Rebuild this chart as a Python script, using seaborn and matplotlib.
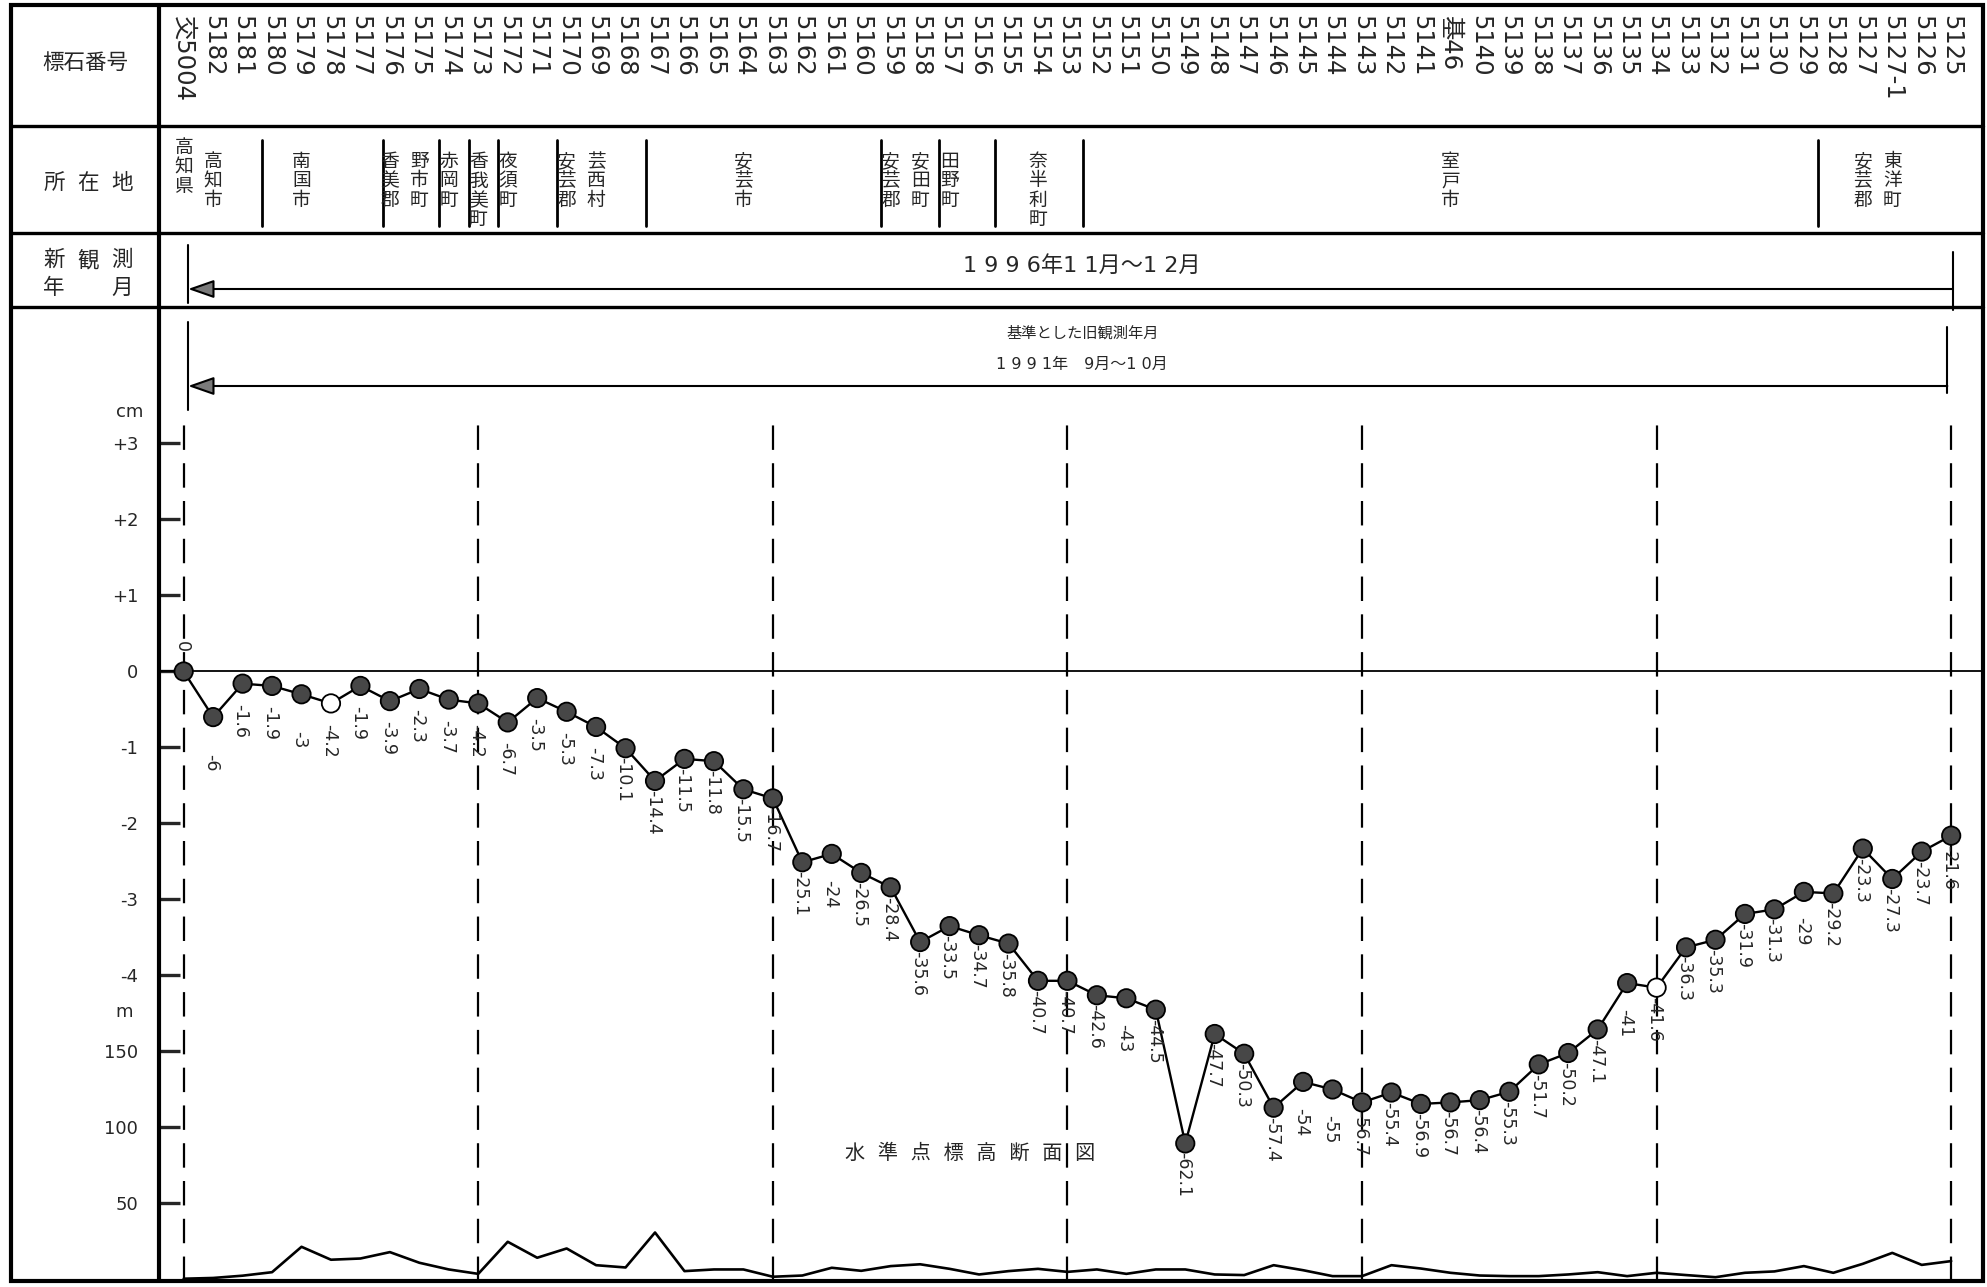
import pandas as pd
import seaborn as sns
import matplotlib.pyplot as plt
from matplotlib.lines import Line2D
from matplotlib.patches import Rectangle
from matplotlib.transforms import blended_transform_factory

# -----------------------------
# Data
# -----------------------------
stations = [
    "交5004", "5182", "5181", "5180", "5179", "5178", "5177", "5176", "5175", "5174",
    "5173", "5172", "5171", "5170", "5169", "5168", "5167", "5166", "5165", "5164",
    "5163", "5162", "5161", "5160", "5159", "5158", "5157", "5156", "5155", "5154",
    "5153", "5152", "5151", "5150", "5149", "5148", "5147", "5146", "5145", "5144",
    "5143", "5142", "5141", "基46", "5140", "5139", "5138", "5137", "5136", "5135",
    "5134", "5133", "5132", "5131", "5130", "5129", "5128", "5127", "5127-1", "5126",
    "5125",
]

# height change of each bench mark, mm
change_mm = [
    0, -6, -1.6, -1.9, -3, -4.2, -1.9, -3.9, -2.3, -3.7,
    -4.2, -6.7, -3.5, -5.3, -7.3, -10.1, -14.4, -11.5, -11.8, -15.5,
    -16.7, -25.1, -24, -26.5, -28.4, -35.6, -33.5, -34.7, -35.8, -40.7,
    -40.7, -42.6, -43, -44.5, -62.1, -47.7, -50.3, -57.4, -54, -55,
    -56.7, -55.4, -56.9, -56.7, -56.4, -55.3, -51.7, -50.2, -47.1, -41,
    -41.6, -36.3, -35.3, -31.9, -31.3, -29, -29.2, -23.3, -27.3, -23.7,
    -21.6,
]

# bench mark elevation, m
elevation_m = [
    0.5, 1.0, 2.5, 4.8, 21.5, 13.0, 13.8, 18.0, 11.0, 6.6,
    3.7, 24.8, 14.3, 20.4, 9.4, 7.9, 30.9, 5.5, 6.6, 6.6,
    1.8, 2.6, 7.7, 5.7, 8.8, 10.0, 7.0, 3.3, 5.5, 7.0,
    5.0, 6.6, 3.7, 6.6, 6.6, 3.3, 2.9, 9.4, 6.1, 2.2,
    2.2, 9.4, 7.2, 4.4, 2.6, 2.2, 2.2, 3.3, 4.8, 2.2,
    4.4, 2.9, 1.5, 4.4, 5.3, 8.8, 4.4, 10.3, 17.5, 9.6,
    12.1,
]

hollow_stations = ["5178", "5134"]

# municipality names and the bench mark each name stands over
places = ["高知県", "高知市", "南国市", "香美郡", "野市町", "赤岡町", "香我美町", "夜須町",
          "安芸郡", "芸西村", "安芸市", "安芸郡", "安田町", "田野町", "奈半利町", "室戸市",
          "安芸郡", "東洋町"]
place_station = ["交5004", "5182", "5179", "5176", "5175", "5174", "5173", "5172",
                 "5170", "5169", "5164", "5159", "5158", "5157", "5154", "基46",
                 "5127", "5127-1"]

new_survey = "1 9 9 6年1 1月～1 2月"
old_survey = "1 9 9 1年　9月～1 0月"
cm_ticks = [3, 2, 1, 0, -1, -2, -3, -4]
cm_tick_labels = ["+3", "+2", "+1", "0", "-1", "-2", "-3", "-4"]
m_ticks = [150, 100, 50]

df = pd.DataFrame({
    "idx": range(len(stations)),
    "station": stations,
    "change_mm": change_mm,
    "elev": elevation_m,
})
df["cm"] = df["change_mm"] / 10
df["kind"] = ["open" if s in hollow_stations else "filled" for s in stations]

# -----------------------------
# Layout (pixels of the 1987x1287 sheet)
# -----------------------------
W, H = 1987, 1287
LEFT, RIGHT, TOP, BOTTOM = 11, 1983, 5, 1281
COL = 159
ROW1, ROW2, ROW3 = 126, 233, 307
separators = [2.66, 6.75, 8.66, 9.68, 10.66, 12.66, 15.69, 23.66, 25.63, 27.54, 30.53, 55.49]


def fy(y):
    return 1 - y / H


sns.set_style("white")
plt.rcParams["font.family"] = ["DejaVu Sans", "Noto Sans CJK JP"]

fig = plt.figure(figsize=(W / 100, H / 100), dpi=100)
ax = fig.add_axes([COL / W, fy(BOTTOM), (RIGHT - COL) / W, (BOTTOM - ROW3) / H])
ax.set_xlim(-0.838, 61.08)
ax.set_ylim(-8.02, 4.796)

# sheet frame and table rules
fig.patches.append(Rectangle((LEFT / W, fy(BOTTOM)), (RIGHT - LEFT) / W, (BOTTOM - TOP) / H,
                             transform=fig.transFigure, fill=False, ec="black", lw=3))
for yy in [ROW1, ROW2, ROW3]:
    fig.lines.append(Line2D([LEFT / W, RIGHT / W], [fy(yy), fy(yy)],
                            transform=fig.transFigure, color="black", lw=2.4))
fig.lines.append(Line2D([COL / W, COL / W], [fy(TOP), fy(BOTTOM)],
                        transform=fig.transFigure, color="black", lw=3))

# left column headings
fig.text(85 / W, fy(63), "標石番号", ha="center", va="center", fontsize=15.5)
for ch, xx in zip("所在地", [54, 88, 122]):
    fig.text(xx / W, fy(183), ch, ha="center", va="center", fontsize=15.5)
for ch, xx in zip("新観測", [54, 88, 122]):
    fig.text(xx / W, fy(260), ch, ha="center", va="center", fontsize=15.5)
for ch, xx in zip("年月", [54, 122]):
    fig.text(xx / W, fy(288), ch, ha="center", va="center", fontsize=15.5)

hdr = blended_transform_factory(ax.transData, fig.transFigure)

# bench mark numbers
for i, s in enumerate(stations):
    ax.text(i, fy(15), s, transform=hdr, rotation=-90, ha="center", va="top", fontsize=17.5)

# municipalities
for name, st in zip(places, place_station):
    i = stations.index(st)
    top = 138 if name == "高知県" else 152
    ax.text(i, fy(top), "\n".join(name), transform=hdr, ha="center", va="top",
            fontsize=13.5, linespacing=1.03)
for xs in separators:
    ax.plot([xs, xs], [fy(140), fy(226)], transform=hdr, color="black", lw=2, clip_on=False)


def survey_arrow(y, x0, x1, t0, t1):
    ax.annotate("", xy=(x0, fy(y)), xytext=(x1, fy(y)), xycoords=hdr, textcoords=hdr,
                annotation_clip=False,
                arrowprops=dict(arrowstyle="-|>,head_length=0.8,head_width=0.28",
                                mutation_scale=20, shrinkA=0, shrinkB=0,
                                fc="#7a7a7a", ec="black", lw=1.5))
    ax.plot([x0, x0], [fy(t0[0]), fy(t0[1])], transform=hdr, color="black", lw=1.5, clip_on=False)
    ax.plot([x1, x1], [fy(t1[0]), fy(t1[1])], transform=hdr, color="black", lw=1.5, clip_on=False)


# new survey period
ax.text(30.5, fy(265), new_survey, transform=hdr, ha="center", va="center", fontsize=16)
survey_arrow(289, 0.15, 60.06, (245, 303), (252, 310))

# reference (old) survey period
ax.text(30.5, fy(333), "基準とした旧観測年月", transform=hdr, ha="center", va="center", fontsize=11)
ax.text(30.5, fy(364), old_survey, transform=hdr, ha="center", va="center", fontsize=11.5)
survey_arrow(386, 0.15, 59.87, (322, 410), (327, 393))

# -----------------------------
# Profile
# -----------------------------
ax.axhline(0, color="black", lw=1.3, zorder=1)
ax.vlines(range(0, len(stations), 10), -8.02, 3.3, colors="black", lw=1.6,
          linestyles=(0, (11, 6)), zorder=1)

sns.lineplot(data=df, x="idx", y="cm", ax=ax, color="black", lw=1.7, zorder=2)
sns.scatterplot(data=df, x="idx", y="cm", hue="kind", ax=ax,
                palette={"filled": "#474747", "open": "white"},
                s=175, edgecolor="black", linewidth=1.3, legend=False, zorder=3)

for i, (v, c) in enumerate(zip(df["change_mm"], df["cm"])):
    txt = f"{v:g}"
    if i == 0:
        ax.annotate(txt, (i, c), xytext=(-2, 19), textcoords="offset pixels",
                    rotation=-90, ha="center", va="bottom", fontsize=12.5)
    else:
        ax.annotate(txt, (i, c), xytext=(-2, -54), textcoords="offset pixels",
                    rotation=-90, ha="center", va="bottom", fontsize=12.5)

ax.text(0.4446, 0.131, "水  準  点  標  高  断  面  図", transform=ax.transAxes,
        ha="center", va="center", fontsize=14.5)

# elevation on a second scale sharing the same sheet
ax2 = ax.twinx()
ax2.set_ylim(-1, 639.8)
sns.lineplot(data=df, x="idx", y="elev", ax=ax2, color="black", lw=1.9)
ax2.yaxis.tick_left()
ax2.set_yticks(m_ticks)

ax.set_xticks([])
ax.set_yticks(cm_ticks, cm_tick_labels)
for a in (ax, ax2):
    a.tick_params(axis="y", direction="in", length=15, width=2.4, pad=15,
                  labelsize=13, left=True, right=False)
    for sp in a.spines.values():
        sp.set_visible(False)
    a.set_xlabel("")
ax.set_ylabel("cm", rotation=0, fontsize=13)
ax.yaxis.set_label_coords(-0.016, 0.883)
ax2.set_ylabel("m", rotation=0, fontsize=13)
ax2.yaxis.set_label_position("left")
ax2.yaxis.set_label_coords(-0.019, 0.267)

fig.savefig("out.png", dpi=100, facecolor="white")
